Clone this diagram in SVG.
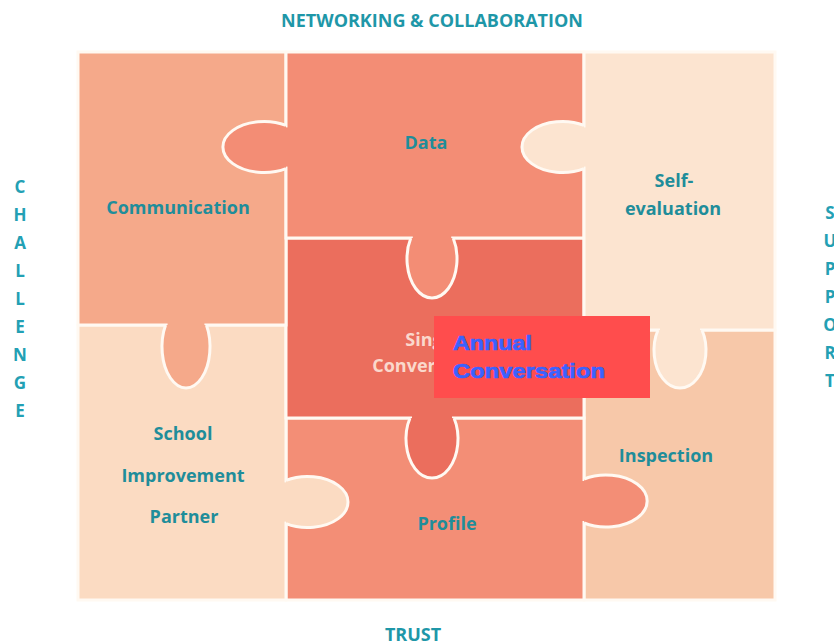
<svg xmlns="http://www.w3.org/2000/svg" width="834" height="641" viewBox="0 0 834 641">
<style>
.pc{stroke:#FFF9F2;stroke-width:3}
.kn{stroke:#FFF9F2;stroke-width:3}
.lb{font-family:"Open Sans","Noto Sans",sans-serif;font-weight:700;font-size:18px;fill:#1F8D9A;text-anchor:middle}
.ax{font-family:"Open Sans","Noto Sans",sans-serif;font-weight:700;font-size:17px;fill:#23A0B4;text-anchor:middle}
.ttl{font-family:"Open Sans","Noto Sans",sans-serif;font-weight:700;font-size:18px;fill:#1E97A8;text-anchor:middle}
.sc{font-family:"Open Sans","Noto Sans",sans-serif;font-weight:700;font-size:18px;fill:#FAD8CC;text-anchor:middle}
.ac{font-family:"Liberation Sans",Arial,sans-serif;font-weight:700;font-size:21px;fill:#3A62FF;stroke:#3A62FF;stroke-width:0.7}
</style>
<rect width="834" height="641" fill="#FFFFFF"/>
<g id="title">
<text class="ttl" x="432" y="27">NETWORKING &amp; COLLABORATION</text>
<text class="ttl" x="413" y="641">TRUST</text>
<text class="ax" x="20" y="193">C</text>
<text class="ax" x="20" y="221">H</text>
<text class="ax" x="20" y="249">A</text>
<text class="ax" x="20" y="277">L</text>
<text class="ax" x="20" y="305">L</text>
<text class="ax" x="20" y="333">E</text>
<text class="ax" x="20" y="361">N</text>
<text class="ax" x="20" y="389">G</text>
<text class="ax" x="20" y="417">E</text>
<text class="ax" x="830" y="219">S</text>
<text class="ax" x="830" y="247">U</text>
<text class="ax" x="830" y="275">P</text>
<text class="ax" x="830" y="303">P</text>
<text class="ax" x="830" y="331">O</text>
<text class="ax" x="830" y="359">R</text>
<text class="ax" x="830" y="387">T</text>
</g>
<g id="inspection">
<rect class="pc" x="584" y="330" width="191" height="270" fill="#F7C8A9"/>
<text class="lb" x="666" y="462">Inspection</text>
</g>
<g id="profile">
<rect class="pc" x="286" y="418" width="298" height="182" fill="#F38E76"/>
<path class="kn" d="M584,479 A41.2,26 0 1 1 584,523" fill="#F38E76"/>
<rect x="582" y="481" width="4" height="40" fill="#F38E76"/>
<text class="lb" x="447" y="530">Profile</text>
</g>
<g id="school-improvement-partner">
<rect class="pc" x="78" y="325" width="208" height="275" fill="#FBDBC2"/>
<path class="kn" d="M286,480.4 A40.5,25.5 0 1 1 286,523.6" fill="#FBDBC2"/>
<rect x="284" y="482.4" width="4" height="39.2" fill="#FBDBC2"/>
<text class="lb" x="183" y="440">School</text>
<text class="lb" x="183" y="482">Improvement</text>
<text class="lb" x="184" y="523">Partner</text>
</g>
<g id="single-conversation">
<rect class="pc" x="286" y="238" width="298" height="180" fill="#EB6E5D"/>
<path class="kn" d="M410,418 A26,39.2 0 1 0 454,418" fill="#EB6E5D"/>
<rect x="412" y="416" width="40" height="4" fill="#EB6E5D"/>
<text class="sc" x="432" y="346">Single</text>
<text class="sc" x="432" y="372">Conversation</text>
</g>
<g id="communication">
<rect class="pc" x="78" y="52" width="208" height="273" fill="#F5A98A"/>
<path class="kn" d="M165.6,325 A24,41.2 0 1 0 206.4,325" fill="#F5A98A"/>
<rect x="167.6" y="323" width="36.8" height="4" fill="#F5A98A"/>
<text class="lb" x="178" y="214">Communication</text>
</g>
<g id="data">
<rect class="pc" x="286" y="52" width="298" height="186" fill="#F38D75"/>
<path class="kn" d="M286,125.4 A41.2,25.5 0 1 0 286,168.6" fill="#F38D75"/>
<rect x="284" y="127.4" width="4" height="39.2" fill="#F38D75"/>
<path class="kn" d="M410.8,238 A25,39.2 0 1 0 453.2,238" fill="#F38D75"/>
<rect x="412.8" y="236" width="38.4" height="4" fill="#F38D75"/>
<text class="lb" x="426" y="149">Data</text>
</g>
<g id="self-evaluation">
<rect class="pc" x="584" y="52" width="191" height="278" fill="#FCE4D0"/>
<path class="kn" d="M584,125.4 A40.5,25.5 0 1 0 584,168.6" fill="#FCE4D0"/>
<rect x="582" y="127.4" width="4" height="39.2" fill="#FCE4D0"/>
<path class="kn" d="M658,330 A26,37.9 0 1 0 702,330" fill="#FCE4D0"/>
<rect x="660" y="328" width="40" height="4" fill="#FCE4D0"/>
<text class="lb" x="674" y="187">Self-</text>
<text class="lb" x="673" y="215">evaluation</text>
</g>
<g id="connectors"/>
<g id="annual-conversation">
<rect x="434" y="316" width="216" height="82" fill="#FF4D4D"/>
<text class="ac" x="453" y="350" textLength="79" lengthAdjust="spacingAndGlyphs">Annual</text>
<text class="ac" x="453" y="378" textLength="152" lengthAdjust="spacingAndGlyphs">Conversation</text>
</g>
</svg>
